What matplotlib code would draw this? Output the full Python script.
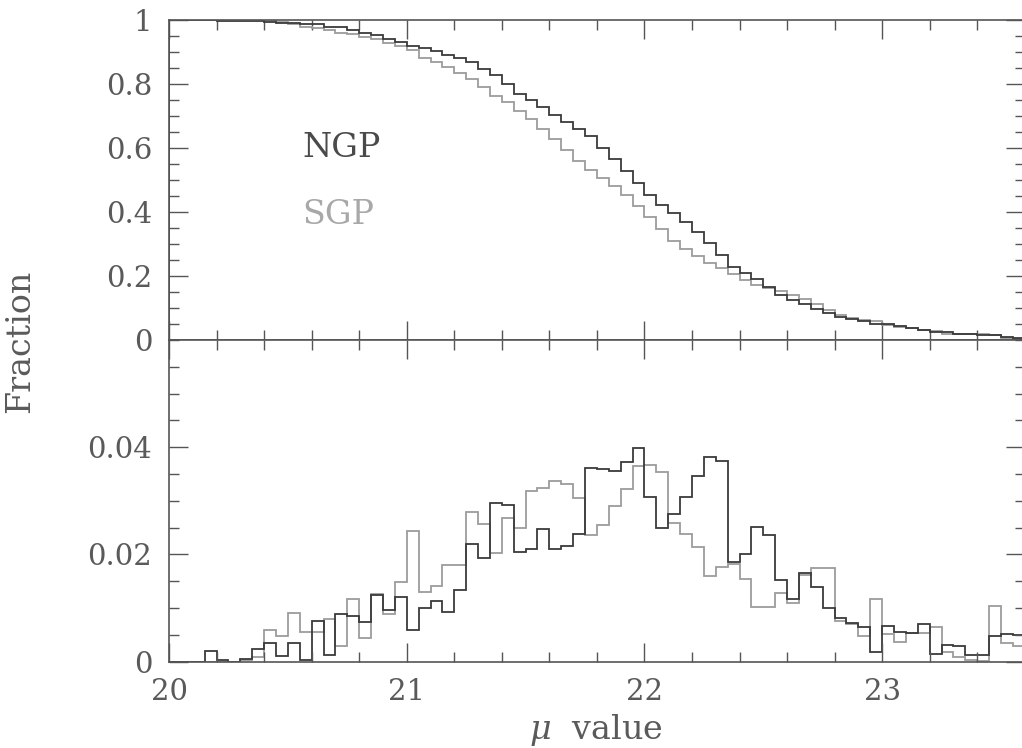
import matplotlib
matplotlib.use("Agg")
import matplotlib.pyplot as plt
import numpy as np
from matplotlib.ticker import MultipleLocator, FuncFormatter

# bin edges of the mu histogram (0.05 wide)
mu_lo, mu_hi, bin_width = 20.0, 23.6, 0.05

# fraction of galaxies per bin
ngp_frac = [0, 0, 0, 0.0020, 0.0004, 0, 0.0005, 0.0023, 0.0034, 0.0010,
            0.0034, 0.0004, 0.0076, 0.0012, 0.0088, 0.0085, 0.0074, 0.0125, 0.0096, 0.0120,
            0.0059, 0.0100, 0.0113, 0.0093, 0.0134, 0.0220, 0.0193, 0.0296, 0.0293, 0.0204,
            0.0210, 0.0247, 0.0210, 0.0216, 0.0238, 0.0362, 0.0360, 0.0355, 0.0373, 0.0398,
            0.0308, 0.0249, 0.0276, 0.0308, 0.0346, 0.0382, 0.0375, 0.0186, 0.0201, 0.0252,
            0.0237, 0.0152, 0.0116, 0.0165, 0.0139, 0.0101, 0.0081, 0.0073, 0.0065, 0.0018,
            0.0066, 0.0055, 0.0054, 0.0071, 0.0015, 0.0032, 0.0030, 0.0012, 0.0012, 0.0047,
            0.0051, 0.0050]
sgp_frac = [0, 0, 0, 0, 0, 0, 0.0003, 0.0009, 0.0060, 0.0047,
            0.0090, 0.0056, 0.0056, 0.0079, 0.0029, 0.0116, 0.0045, 0.0127, 0.0088, 0.0148,
            0.0243, 0.0130, 0.0142, 0.0180, 0.0181, 0.0279, 0.0257, 0.0202, 0.0268, 0.0249,
            0.0319, 0.0324, 0.0337, 0.0332, 0.0305, 0.0237, 0.0255, 0.0291, 0.0322, 0.0365,
            0.0366, 0.0354, 0.0259, 0.0238, 0.0213, 0.0160, 0.0177, 0.0182, 0.0154, 0.0102,
            0.0102, 0.0129, 0.0110, 0.0162, 0.0174, 0.0174, 0.0076, 0.0070, 0.0048, 0.0116,
            0.0051, 0.0037, 0.0054, 0.0054, 0.0064, 0.0018, 0.0009, 0.0003, 0.0002, 0.0104,
            0.0035, 0.0030]

x_ticks = [20, 21, 22, 23]
top_yticks = [0, 0.2, 0.4, 0.6, 0.8, 1]
bot_yticks = [0, 0.02, 0.04]

ngp_color = "#3a3a3a"
sgp_color = "#9c9c9c"
text_color = "#5a5a5a"

plt.rcParams["font.family"] = ["DejaVu Serif"]
plt.rcParams["mathtext.fontset"] = "dejavuserif"

edges = np.arange(len(ngp_frac) + 1) * bin_width + mu_lo
centers = edges[:-1] + bin_width / 2

fig = plt.figure(figsize=(10.22, 7.48), dpi=100)
ax_top = fig.add_axes([0.1654, 0.5455, 0.8373, 0.4278])
ax_bot = fig.add_axes([0.1654, 0.1154, 0.8373, 0.4301])

# upper panel: fraction with mu above x (reverse cumulative)
for frac, col in [(sgp_frac, sgp_color), (ngp_frac, ngp_color)]:
    ax_top.hist(centers, bins=edges, weights=frac, density=True, cumulative=-1,
                histtype="step", color=col, linewidth=1.3)
    ax_bot.stairs(frac, edges, color=col, linewidth=1.3)

ax_top.text(20.56, 0.60, "NGP", color="#4a4a4a", fontsize=24, va="center", ha="left")
ax_top.text(20.56, 0.39, "SGP", color="#a8a8a8", fontsize=24, va="center", ha="left")

fmt = FuncFormatter(lambda v, pos: f"{v:g}")

for ax in (ax_top, ax_bot):
    ax.set_xlim(mu_lo, mu_hi)
    ax.set_xticks(x_ticks)
    ax.xaxis.set_minor_locator(MultipleLocator(0.2))
    ax.tick_params(which="both", direction="in", top=True, right=True,
                   colors="#555555", labelcolor=text_color, labelsize=21, width=1.0)
    ax.tick_params(which="major", length=14, pad=12)
    ax.tick_params(which="minor", length=7)
    for s in ax.spines.values():
        s.set_color("#555555")
        s.set_linewidth(1.2)
    ax.yaxis.set_major_formatter(fmt)

ax_top.set_ylim(0, 1)
ax_top.set_yticks(top_yticks)
ax_top.yaxis.set_minor_locator(MultipleLocator(0.05))
ax_top.tick_params(axis="x", labelbottom=False)

ax_bot.set_ylim(0, 0.06)
ax_bot.set_yticks(bot_yticks)
ax_bot.yaxis.set_minor_locator(MultipleLocator(0.005))
ax_bot.xaxis.set_major_formatter(fmt)

fig.text(0.583, 0.024, r"$\mu$  value", color=text_color, fontsize=24,
         ha="center", va="center")
fig.text(0.02, 0.544, "Fraction", color=text_color, fontsize=24,
         rotation=90, ha="center", va="center")

fig.savefig("out.png", dpi=100)
